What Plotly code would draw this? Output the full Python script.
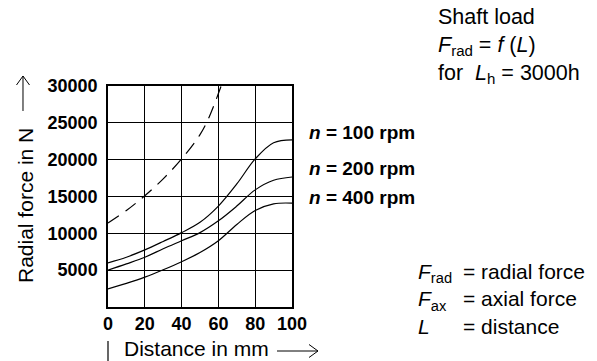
import plotly.graph_objects as go

# distance in mm
distance = [0, 10, 20, 30, 40, 50, 60, 70, 80, 90, 100]
force_100rpm = [6000, 6750, 7750, 8900, 10100, 11500, 13700, 16700, 20100, 22300, 22700]
force_200rpm = [5000, 5850, 6750, 7900, 9000, 10100, 11700, 13700, 15900, 17200, 17650]
force_400rpm = [2450, 3200, 4050, 5050, 6150, 7400, 9000, 11200, 13100, 14000, 14100]

# dashed limit curve
limit_distance = [0, 10, 20, 30, 40, 50, 55, 61.5]
limit_force = [11400, 13100, 15100, 17400, 20100, 23400, 25800, 30000]

curve_labels = ['100', '200', '400']
x_ticks = [0, 20, 40, 60, 80, 100]
y_ticks = [5000, 10000, 15000, 20000, 25000, 30000]

W, H = 597, 361
L, R, T, B = 108, 292, 86, 307


def px(x):
    return (x - L) / (R - L)


def py(y):
    return (B - y) / (B - T)


def path(points):
    return 'M ' + ' L '.join(f'{px(x):.4f},{py(y):.4f}' for x, y in points)


def arrow(x0, y0, x1, y1, head=9, half=6.5):
    # long thin arrow with an open head, page pixels
    fig.add_shape(type='path', xref='paper', yref='paper', path=path([(x0, y0), (x1, y1)]),
                  line=dict(color='black', width=1))
    if x0 == x1:
        s = 1 if y1 > y0 else -1
        barbs = [(x1 - half, y1 - s * head), (x1, y1), (x1 + half, y1 - s * head)]
    else:
        s = 1 if x1 > x0 else -1
        barbs = [(x1 - s * head, y1 - half), (x1, y1), (x1 - s * head, y1 + half)]
    fig.add_shape(type='path', xref='paper', yref='paper', path=path(barbs),
                  line=dict(color='black', width=1))


fig = go.Figure()
for ys in [force_100rpm, force_200rpm, force_400rpm]:
    fig.add_trace(go.Scatter(x=distance, y=ys, mode='lines', line_shape='spline',
                             line=dict(color='black', width=1.2), showlegend=False))
fig.add_trace(go.Scatter(x=limit_distance, y=limit_force, mode='lines', line_shape='spline',
                         line=dict(color='black', width=1.2, dash='13px,8px'), showlegend=False))

fig.update_layout(
    width=W, height=H,
    margin=dict(l=L, r=W - R, t=T, b=H - B),
    paper_bgcolor='white', plot_bgcolor='white',
    font=dict(family='Liberation Sans, Arial, sans-serif', color='black'),
)
fig.update_xaxes(range=[0, 100], tickvals=x_ticks, showgrid=True, gridcolor='black', gridwidth=1,
                 showline=True, linecolor='black', linewidth=1.5, mirror=True, zeroline=False,
                 ticks='', automargin=False,
                 tickfont=dict(size=18, family='Liberation Sans, Arial', weight='bold'))
fig.update_yaxes(range=[0, 30000], tickvals=y_ticks, tickformat='d', showgrid=True,
                 gridcolor='black', gridwidth=1,
                 showline=True, linecolor='black', linewidth=1.5, mirror=True, zeroline=False,
                 ticks='', ticklabelstandoff=5, automargin=False,
                 tickfont=dict(size=18, family='Liberation Sans, Arial', weight='bold'))

label_y = [132, 168, 197]
for lab, yy in zip(curve_labels, label_y):
    fig.add_annotation(xref='paper', yref='paper', x=px(307), y=py(yy), xanchor='left', yanchor='middle',
                       text='<b><i>n</i> = ' + lab + ' rpm</b>', showarrow=False,
                       font=dict(size=19))

# axis titles with long arrows
fig.add_annotation(xref='paper', yref='paper', x=px(25), y=py(206), xanchor='center', yanchor='middle',
                   text='Radial force in N', textangle=-90, showarrow=False, font=dict(size=21))
arrow(23, 111, 23, 76)
fig.add_annotation(xref='paper', yref='paper', x=px(122), y=py(348), xanchor='left', yanchor='middle',
                   text='Distance in mm', showarrow=False, font=dict(size=21))
arrow(277, 351, 318, 351)
fig.add_shape(type='line', xref='paper', yref='paper', x0=px(108), x1=px(108), y0=py(341), y1=py(361),
              line=dict(color='black', width=1.2))

fig.add_annotation(xref='paper', yref='paper', x=px(436), y=py(3), xanchor='left', yanchor='top',
                   align='left', showarrow=False, font=dict(size=21.5),
                   text='Shaft load<br><i>F</i><sub>rad</sub> = <i>f</i> (<i>L</i>)<br>for  <i>L</i><sub>h</sub> = 3000h')
fig.add_annotation(xref='paper', yref='paper', x=px(416), y=py(258), xanchor='left', yanchor='top',
                   align='left', showarrow=False, font=dict(size=21),
                   text='<i>F</i><sub>rad</sub><br><i>F</i><sub>ax</sub><br><i>L</i>')
fig.add_annotation(xref='paper', yref='paper', x=px(461), y=py(258), xanchor='left', yanchor='top',
                   align='left', showarrow=False, font=dict(size=21),
                   text='= radial force<br>= axial force<br>= distance')

fig.write_html('out.html', config={'displayModeBar': False},
               post_script="document.body.style.margin='0px';")
